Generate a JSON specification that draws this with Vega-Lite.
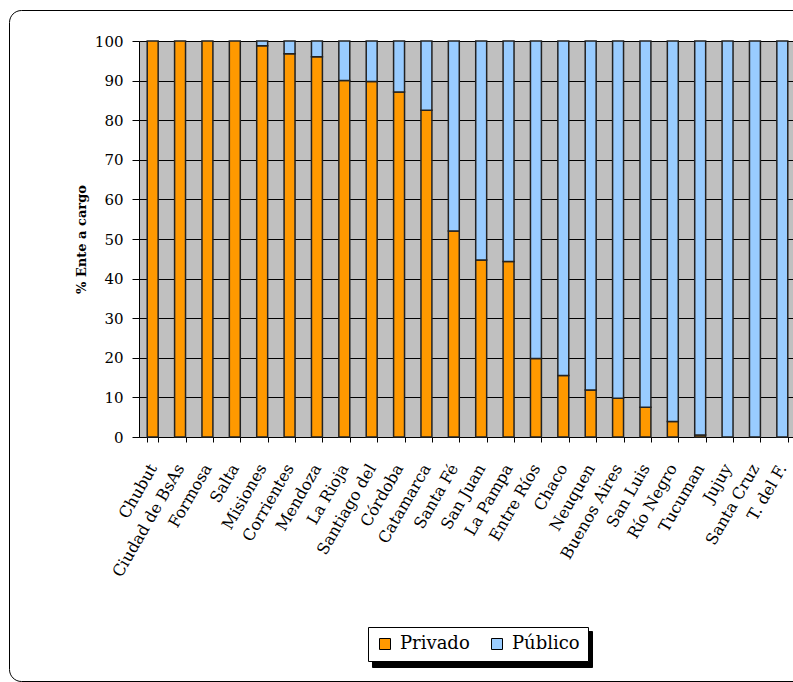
{
  "$schema": "https://vega.github.io/schema/vega-lite/v6.json",
  "autosize": {"type": "none"},
  "padding": {"left": 139, "top": 41, "right": -3, "bottom": 245},
  "width": 657,
  "height": 396,
  "background": "white",
  "data": {
    "values": [
      {"provincia": "Chubut", "tipo": "Privado", "valor": 100},
      {"provincia": "Ciudad de BsAs", "tipo": "Privado", "valor": 100},
      {"provincia": "Formosa", "tipo": "Privado", "valor": 100},
      {"provincia": "Salta", "tipo": "Privado", "valor": 100},
      {"provincia": "Misiones", "tipo": "Privado", "valor": 98.8},
      {"provincia": "Misiones", "tipo": "Público", "valor": 1.2},
      {"provincia": "Corrientes", "tipo": "Privado", "valor": 96.8},
      {"provincia": "Corrientes", "tipo": "Público", "valor": 3.2},
      {"provincia": "Mendoza", "tipo": "Privado", "valor": 96},
      {"provincia": "Mendoza", "tipo": "Público", "valor": 4},
      {"provincia": "La Rioja", "tipo": "Privado", "valor": 90},
      {"provincia": "La Rioja", "tipo": "Público", "valor": 10},
      {"provincia": "Santiago del", "tipo": "Privado", "valor": 89.8},
      {"provincia": "Santiago del", "tipo": "Público", "valor": 10.2},
      {"provincia": "Córdoba", "tipo": "Privado", "valor": 87.1},
      {"provincia": "Córdoba", "tipo": "Público", "valor": 12.9},
      {"provincia": "Catamarca", "tipo": "Privado", "valor": 82.5},
      {"provincia": "Catamarca", "tipo": "Público", "valor": 17.5},
      {"provincia": "Santa Fé", "tipo": "Privado", "valor": 52},
      {"provincia": "Santa Fé", "tipo": "Público", "valor": 48},
      {"provincia": "San Juan", "tipo": "Privado", "valor": 44.7},
      {"provincia": "San Juan", "tipo": "Público", "valor": 55.3},
      {"provincia": "La Pampa", "tipo": "Privado", "valor": 44.3},
      {"provincia": "La Pampa", "tipo": "Público", "valor": 55.7},
      {"provincia": "Entre Ríos", "tipo": "Privado", "valor": 19.8},
      {"provincia": "Entre Ríos", "tipo": "Público", "valor": 80.2},
      {"provincia": "Chaco", "tipo": "Privado", "valor": 15.5},
      {"provincia": "Chaco", "tipo": "Público", "valor": 84.5},
      {"provincia": "Neuquen", "tipo": "Privado", "valor": 11.9},
      {"provincia": "Neuquen", "tipo": "Público", "valor": 88.1},
      {"provincia": "Buenos Aires", "tipo": "Privado", "valor": 9.8},
      {"provincia": "Buenos Aires", "tipo": "Público", "valor": 90.2},
      {"provincia": "San Luis", "tipo": "Privado", "valor": 7.5},
      {"provincia": "San Luis", "tipo": "Público", "valor": 92.5},
      {"provincia": "Río Negro", "tipo": "Privado", "valor": 3.9},
      {"provincia": "Río Negro", "tipo": "Público", "valor": 96.1},
      {"provincia": "Tucuman", "tipo": "Privado", "valor": 0.5},
      {"provincia": "Tucuman", "tipo": "Público", "valor": 99.5},
      {"provincia": "Jujuy", "tipo": "Público", "valor": 100},
      {"provincia": "Santa Cruz", "tipo": "Público", "valor": 100},
      {"provincia": "T. del F.", "tipo": "Público", "valor": 100}
    ]
  },
  "mark": {"type": "bar"},
  "encoding": {
    "x": {
      "field": "provincia",
      "type": "nominal",
      "sort": null,
      "scale": {"paddingInner": 0.6, "paddingOuter": 0.3},
      "axis": {
        "title": null,
        "labelAngle": -60,
        "labelAlign": "right",
        "labelBaseline": "middle",
        "labelFontSize": 16,
        "labelPadding": 23,
        "labelLimit": 400,
        "tickBand": "extent",
        "tickSize": 5,
        "grid": false
      }
    },
    "y": {
      "field": "valor",
      "type": "quantitative",
      "stack": "zero",
      "scale": {"domain": [0, 100], "nice": false},
      "axis": {
        "title": "% Ente a cargo",
        "titleFontSize": 13,
        "titleFontWeight": "bold",
        "titlePadding": 6,
        "labelFontSize": 15,
        "labelPadding": 9,
        "tickSize": 7,
        "values": [0, 10, 20, 30, 40, 50, 60, 70, 80, 90, 100],
        "grid": true,
        "gridColor": "#000000",
        "gridOpacity": 1,
        "gridWidth": 1
      }
    },
    "order": {"field": "tipo", "type": "nominal", "sort": "ascending"},
    "fill": {
      "field": "tipo",
      "type": "nominal",
      "scale": {"domain": ["Privado", "Público"], "range": ["#FF9900", "#99CCFF"]},
      "legend": {
        "title": null,
        "orient": "none",
        "legendX": 229,
        "legendY": 586,
        "direction": "horizontal",
        "fillColor": "#FFFFFF",
        "strokeColor": "#000000",
        "padding": 8,
        "symbolType": "square",
        "symbolSize": 121,
        "symbolStrokeColor": "#000000",
        "symbolStrokeWidth": 1,
        "labelFontSize": 18,
        "labelOffset": 6,
        "columnPadding": 18,
        "zindex": 2
      }
    },
    "stroke": {
      "field": "tipo",
      "type": "nominal",
      "scale": {"range": ["#222222", "#222222"]},
      "legend": {
        "title": null,
        "orient": "none",
        "legendX": 233,
        "legendY": 590,
        "direction": "horizontal",
        "fillColor": "#000000",
        "strokeColor": "#000000",
        "padding": 9,
        "symbolType": "square",
        "symbolSize": 121,
        "symbolFillColor": "#000000",
        "symbolStrokeWidth": 1,
        "labelExpr": "''",
        "labelFontSize": 18,
        "labelOffset": 74,
        "columnPadding": 18,
        "zindex": 1
      }
    },
    "strokeWidth": {
      "field": "tipo",
      "type": "nominal",
      "scale": {"domain": ["Público", "Privado"], "range": [1.5, 1.5]},
      "legend": {
        "title": null,
        "orient": "none",
        "legendX": -130,
        "legendY": -31,
        "direction": "horizontal",
        "strokeColor": "#000000",
        "cornerRadius": 12,
        "padding": 330,
        "symbolSize": 100,
        "symbolOpacity": 0,
        "labelOpacity": 0,
        "labelFontSize": 10,
        "columnPadding": 200,
        "zindex": 0
      }
    }
  },
  "config": {
    "font": "DejaVu Serif",
    "view": {"fill": "#C0C0C0", "stroke": null},
    "axis": {
      "labelFont": "DejaVu Serif",
      "titleFont": "DejaVu Serif",
      "labelColor": "#000000",
      "titleColor": "#000000",
      "tickColor": "#000000",
      "domainColor": "#000000",
      "domainWidth": 1,
      "tickWidth": 1
    },
    "legend": {"labelFont": "DejaVu Serif", "labelColor": "#000000"}
  }
}
